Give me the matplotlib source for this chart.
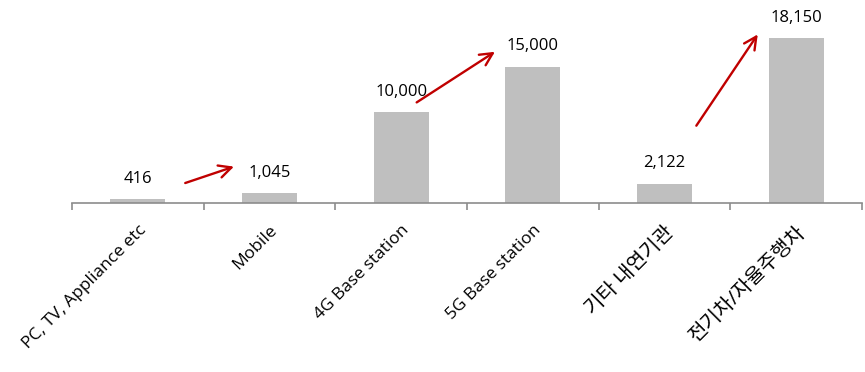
import matplotlib
matplotlib.use("Agg")
import matplotlib.pyplot as plt
import numpy as np

plt.rcParams["font.family"] = ["Open Sans", "Noto Sans CJK KR", "DejaVu Sans"]

categories = ["PC, TV, Appliance etc", "Mobile", "4G Base station",
              "5G Base station", "기타 내연기관", "전기차/자율주행차"]
values = [416, 1045, 10000, 15000, 2122, 18150]
value_labels = ["416", "1,045", "10,000", "15,000", "2,122", "18,150"]

# growth arrows (start, end) in data coordinates
arrows = [((0.34, 2100), (0.75, 4100)),
          ((2.10, 10900), (2.73, 16800)),
          ((4.23, 8250), (4.72, 18800))]

BAR = "#bfbfbf"
AXIS = "#8c8c8c"
RED = "#c00000"

fig = plt.figure(figsize=(8.65, 3.72), dpi=100)
ax = fig.add_axes([72 / 865, 1 - 203 / 372, 790 / 865, 203 / 372])

x = np.arange(len(categories))
ax.bar(x, values, width=0.42, color=BAR, zorder=2)

for xi, v, lab in zip(x, values, value_labels):
    ax.annotate(lab, (xi, v), xytext=(0, 9), textcoords="offset points",
                ha="center", va="bottom", fontsize=12, color="#000000")

for (x0, y0), (x1, y1) in arrows:
    ax.annotate("", xy=(x1, y1), xytext=(x0, y0),
                arrowprops=dict(arrowstyle="->,head_length=0.9,head_width=0.45",
                                color=RED, lw=1.7))

ax.set_xlim(-0.5, len(categories) - 0.5)
ax.set_ylim(0, 22330)
ax.set_yticks([])
for s in ["top", "right", "left"]:
    ax.spines[s].set_visible(False)
ax.spines["bottom"].set_color(AXIS)
ax.spines["bottom"].set_linewidth(1.2)

ax.set_xticks(x)
ax.set_xticklabels(categories, rotation=45, ha="right", rotation_mode="anchor",
                   fontsize=12.5)
for t in ax.get_xticklabels():
    if any(ord(c) > 0x1000 for c in t.get_text()):
        t.set_fontsize(14.5)
ax.tick_params(axis="x", which="major", length=0, pad=14)
ax.set_xticks(np.arange(len(categories) + 1) - 0.5, minor=True)
ax.tick_params(axis="x", which="minor", length=5, width=1.2, color=AXIS,
               direction="out")

fig.savefig("out.png", dpi=100)
